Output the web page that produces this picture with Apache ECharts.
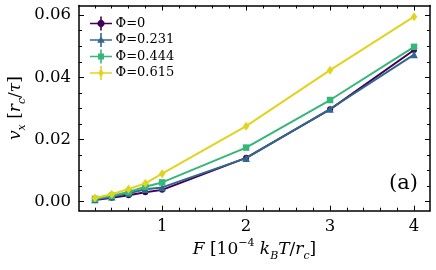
<!DOCTYPE html>
<html>
<head>
<meta charset="utf-8">
<script src="https://cdn.jsdelivr.net/npm/echarts@6/dist/echarts.min.js"></script>
<style>
html,body{margin:0;padding:0;background:#fff;}
#c{width:436px;height:270px;}
</style>
</head>
<body>
<div id="c"></div>
<script>
// Data
var forces = [0.2, 0.4, 0.6, 0.8, 1, 2, 3, 4];
var phi0   = [0.0005, 0.0013, 0.0021, 0.0030, 0.0038, 0.0141, 0.0297, 0.0488];
var phi231 = [0.0007, 0.0016, 0.0027, 0.0040, 0.0046, 0.0140, 0.0298, 0.0473];
var phi444 = [0.0009, 0.0019, 0.0031, 0.0048, 0.0062, 0.0174, 0.0327, 0.0498];
var phi615 = [0.0012, 0.0024, 0.0041, 0.0059, 0.0090, 0.0243, 0.0423, 0.0595];
var seriesNames = ['Φ=0', 'Φ=0.231', 'Φ=0.444', 'Φ=0.615'];
var xMajor = [1, 2, 3, 4];
var xMinor = [0.2, 0.4, 0.6, 0.8, 1.2, 1.4, 1.6, 1.8, 2.2, 2.4, 2.6, 2.8, 3.2, 3.4, 3.6, 3.8];
var yMajor = [0, 0.02, 0.04, 0.06];
var yMinor = [0.005, 0.01, 0.015, 0.025, 0.03, 0.035, 0.045, 0.05, 0.055];

var colors = ['#440154', '#31688e', '#35b779', '#e2d31f'];
var FONT = 'DejaVu Serif';
var X_MIN = 0.01, X_MAX = 4.19, Y_MIN = -0.0029, Y_MAX = 0.0631;

function zip(xs, ys) { return xs.map(function (x, i) { return [x, ys[i]]; }); }

var cross = 'M0,6.2h22v1.6h-22z M10.2,0h1.6v14h-1.6z ';
var icons = [
  'path://' + cross + 'M9.6,3.6L12.4,3.6L14.4,5.6L14.4,8.4L12.4,10.4L9.6,10.4L7.6,8.4L7.6,5.6z',
  'path://' + cross + 'M11,3L14.8,9.8L7.2,9.8z',
  'path://' + cross + 'M8,4L14,4L14,10L8,10z',
  'path://' + cross + 'M11,2.5L13.8,7L11,11.5L8.2,7z'
];
var symbols = ['circle', 'triangle', 'rect', 'diamond'];
var symbolSizes = [6, 7.5, 6.5, [6.5, 9]];
var values = [phi0, phi231, phi444, phi615];

function xAxisDef(pos, ticks, len, showLine, showLabel) {
  return {
    type: 'value', position: pos, min: X_MIN, max: X_MAX,
    nameMoveOverlap: false,
    axisLine: { show: showLine, onZero: false, lineStyle: { color: '#000', width: 1.5 } },
    axisTick: { show: true, inside: true, length: len, customValues: ticks, lineStyle: { color: '#000', width: 1 } },
    axisLabel: { show: showLabel, customValues: ticks, margin: 8, color: '#000', fontFamily: FONT, fontSize: 16.5 },
    splitLine: { show: false }
  };
}
function yAxisDef(pos, ticks, len, showLine, showLabel) {
  return {
    type: 'value', position: pos, min: Y_MIN, max: Y_MAX,
    nameMoveOverlap: false,
    axisLine: { show: showLine, onZero: false, lineStyle: { color: '#000', width: 1.5 } },
    axisTick: { show: true, inside: true, length: len, customValues: ticks, lineStyle: { color: '#000', width: 1 } },
    axisLabel: { show: showLabel, customValues: ticks, margin: 8, color: '#000', fontFamily: FONT, fontSize: 16.5,
      formatter: function (v) { return v.toFixed(2); } },
    splitLine: { show: false }
  };
}

var nameStyle = {
  color: '#000', fontFamily: FONT, fontSize: 17,
  rich: {
    i: { fontFamily: FONT, fontStyle: 'italic', fontSize: 17, color: '#000', lineHeight: 24, verticalAlign: 'middle' },
    n: { fontFamily: FONT, fontSize: 17, color: '#000', lineHeight: 24, verticalAlign: 'middle' },
    sup: { fontFamily: FONT, fontSize: 11, color: '#000', lineHeight: 13, verticalAlign: 'top' },
    sub: { fontFamily: FONT, fontSize: 11, fontStyle: 'italic', color: '#000', lineHeight: 11, verticalAlign: 'bottom' }
  }
};

var xAxes = [
  xAxisDef('bottom', xMajor, 5, true, true),
  xAxisDef('bottom', xMinor, 3, false, false),
  xAxisDef('top', xMajor, 5, true, false),
  xAxisDef('top', xMinor, 3, false, false)
];
xAxes[0].name = '{i|F} {n|[10}{sup|−4} {i|k}{sub|B}{i|T}{n|/}{i|r}{sub|c}{n|]}';
xAxes[0].nameLocation = 'middle';
xAxes[0].nameGap = 27;
xAxes[0].nameTextStyle = nameStyle;

var yAxes = [
  yAxisDef('left', yMajor, 5, true, true),
  yAxisDef('left', yMinor, 3, false, false),
  yAxisDef('right', yMajor, 5, true, false),
  yAxisDef('right', yMinor, 3, false, false)
];
yAxes[0].name = '{i|v}{sub|x} {n|[}{i|r}{sub|c}{n|/}{i|τ}{n|]}';
yAxes[0].nameLocation = 'middle';
yAxes[0].nameRotate = 90;
yAxes[0].nameGap = 51;
yAxes[0].nameTextStyle = nameStyle;

var series = values.map(function (vals, k) {
  return {
    name: seriesNames[k], type: 'line', xAxisIndex: 0, yAxisIndex: 0,
    data: zip(forces, vals),
    symbol: symbols[k], symbolSize: symbolSizes[k], showSymbol: true,
    lineStyle: { color: colors[k], width: 2 },
    itemStyle: { color: colors[k] },
    z: 2 + k,
    animation: false
  };
});

var chart = echarts.init(document.getElementById('c'), null, { renderer: 'canvas' });
chart.setOption({
  animation: false,
  backgroundColor: '#fff',
  grid: { left: 79, right: 6, top: 5.5, bottom: 59.3, containLabel: false, outerBoundsMode: 'none' },
  xAxis: xAxes,
  yAxis: yAxes,
  legend: {
    orient: 'vertical', left: 85, top: 11.5,
    itemWidth: 23, itemHeight: 14, itemGap: 2.5,
    textStyle: { fontFamily: FONT, fontSize: 13, color: '#000', padding: [0, 0, 0, -2] },
    data: seriesNames.map(function (n, k) { return { name: n, icon: icons[k], itemStyle: { color: colors[k] } }; })
  },
  graphic: [{
    type: 'text', right: 18, top: 173,
    style: { text: '(a)', font: '21px "DejaVu Serif"', fill: '#000' }
  }],
  series: series
});
</script>
</body>
</html>
